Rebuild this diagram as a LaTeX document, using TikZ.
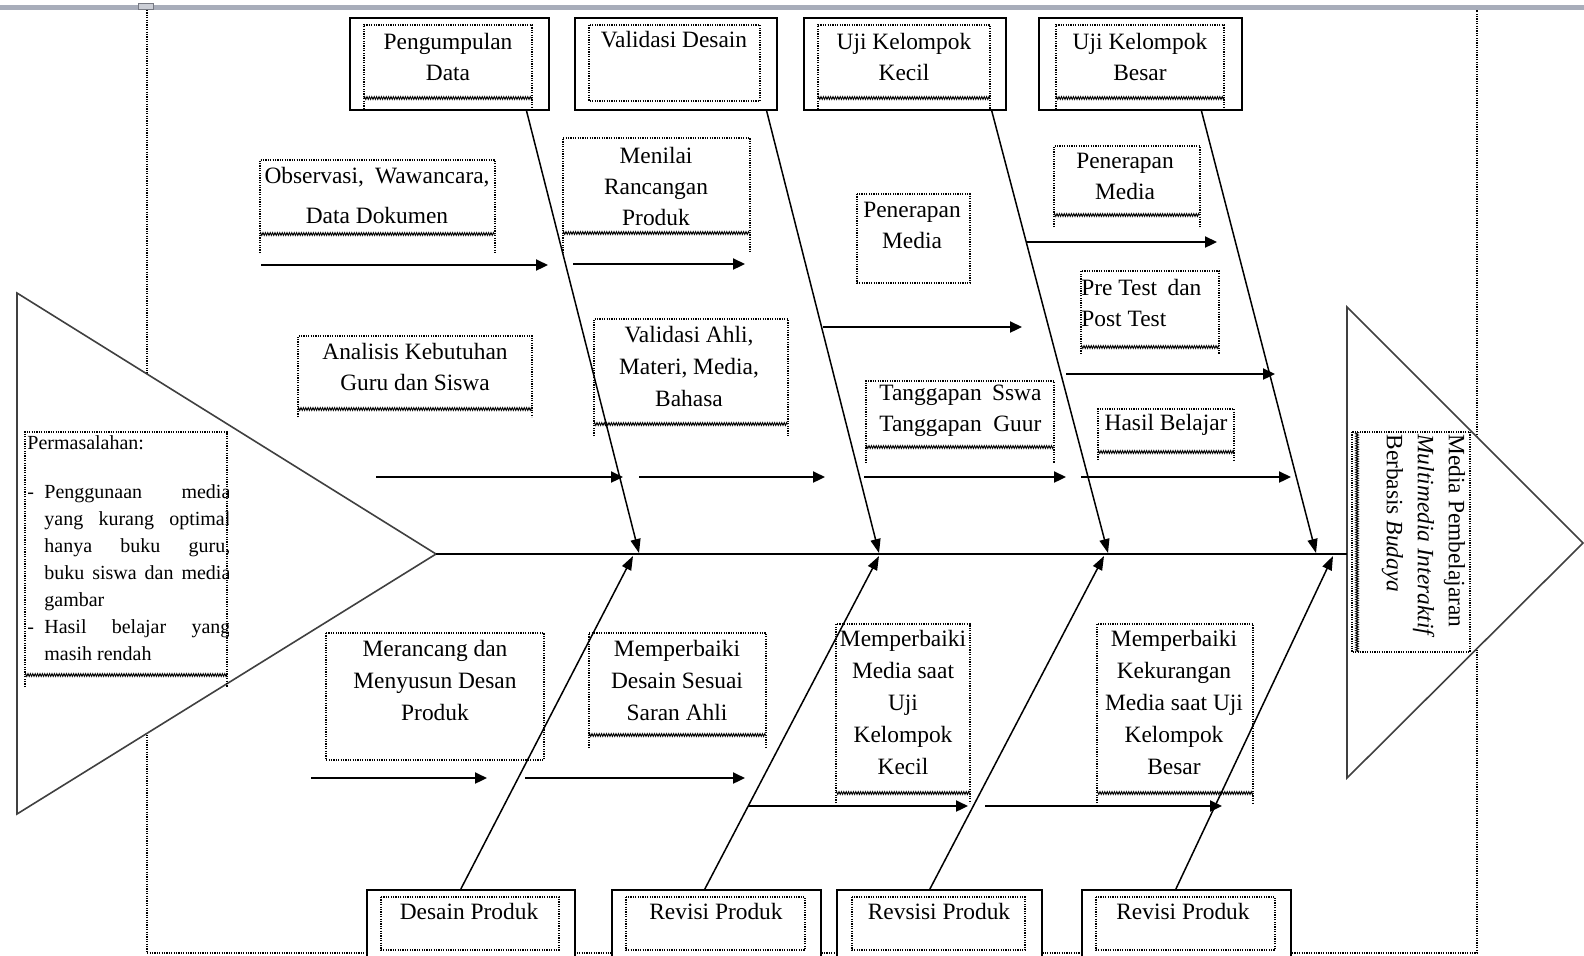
\documentclass[tikz,border=0pt]{standalone}
\usepackage{fontspec}
\setmainfont{Liberation Serif}
\usetikzlibrary{arrows.meta,calc,decorations.pathmorphing}
\definecolor{barGray}{RGB}{168,173,186}

\begin{document}
\begin{tikzpicture}[x=0.5pt, y=-0.5pt,
    every node/.style={font=\fontsize{11.7}{15.5}\selectfont, inner sep=0pt},
    catbox/.style={draw, line width=0.9pt, fill=white, anchor=north west},
    dotline/.style={line width=0.6pt, dash pattern=on 0.6pt off 0.6pt},
    wavy/.style={line width=0.45pt, decorate, decoration={zigzag, segment length=1.2pt, amplitude=0.7pt}},
    bone/.style={line width=0.75pt, -{Triangle[length=7pt, width=5pt]}},
    flow/.style={line width=1.1pt, -{Triangle[length=6pt, width=5.5pt]}},
    tri/.style={line width=0.8pt, draw=black!75, fill=white},
    txt/.style={anchor=north, align=center},
    txtl/.style={anchor=north west, align=left}]
\useasboundingbox (0,0) rectangle (1584,955);

\fill[barGray] (0,5) rectangle (1584,9.5);
\draw[barGray!70!black, fill=barGray!60, line width=0.4pt] (138,3) rectangle (153,9);
\draw[dotline] (147,10) -- (147,953) -- (1477,953) -- (1477,10);

% head and tail
\draw[tri] (17,293) -- (436,554) -- (17,814) -- cycle;
\draw[tri] (1347,307) -- (1583,543) -- (1347,778) -- cycle;
\coordinate (ltip) at (436,554);
\coordinate (rbase) at (1347,554);
\draw[line width=1pt] (ltip) -- (rbase);

% main boxes
\node[catbox, minimum width=99.5pt, minimum height=46pt] (kPengumpulan) at (349,17) {};
\node[catbox, minimum width=101pt, minimum height=46pt] (kValidasi) at (574,17) {};
\node[catbox, minimum width=101pt, minimum height=46pt] (kUjiKecil) at (803,17) {};
\node[catbox, minimum width=101.5pt, minimum height=46pt] (kUjiBesar) at (1038,17) {};
\node[catbox, minimum width=104pt, minimum height=36pt] (kDesain) at (366,889) {};
\node[catbox, minimum width=104.5pt, minimum height=36pt] (kRevisiA) at (611,889) {};
\node[catbox, minimum width=102.5pt, minimum height=36pt] (kRevisiB) at (836,889) {};
\node[catbox, minimum width=104.5pt, minimum height=36pt] (kRevisiC) at (1081,889) {};

% text frames
\foreach \xa/\ya/\xb/\yb/\yw in {364/25/532/109/98, 818/25/990/109/98, 1056/25/1224/109/98,
    260/160/495/253/234, 563/138/750/253/233, 1054/146/1200/227/215, 1081/271/1219/354/347,
    298/336/532/417/409, 594/319/788/436/424, 866/381/1054/463/447, 1098/409/1234/460/452,
    25/432/227/687/675, 589/633/766/748/735, 836/624/970/803/793, 1097/624/1253/803/793}
{
  \draw[dotline] (\xa,\yb) -- (\xa,\ya) -- (\xb,\ya) -- (\xb,\yb);
  \draw[wavy] (\xa,\yw) -- (\xb,\yw);
}
\foreach \xa/\ya/\xb/\yb in {589/25/760/101, 857/194/970/283, 326/633/544/760,
    381/897/559/950, 626/897/805/950, 852/897/1025/950, 1096/897/1275/950}
  \draw[dotline] (\xa,\ya) rectangle (\xb,\yb);
\draw[dotline] (1352,432) rectangle (1470,652);
\draw[wavy] (1357,432) -- (1357,652);

\node[txt] (tPengumpulan) at (448,27) {\strut Pengumpulan\\Data};
\node[txt] (tValidasi) at (674,25) {\strut Validasi Desain};
\node[txt] (tUjiKecil) at (904,27) {\strut Uji Kelompok\\Kecil};
\node[txt] (tUjiBesar) at (1140,27) {\strut Uji Kelompok\\Besar};

\node[txt] (tObservasi) at (377,161) {\strut\makebox[112.5pt][s]{Observasi, Wawancara,}\\[4.5pt]Data Dokumen};
\node[txt] (tMenilai) at (656,141) {\strut Menilai\\Rancangan\\Produk};
\node[txt] (tPenerapanA) at (912,195) {\strut Penerapan\\Media};
\node[txt] (tPenerapanB) at (1125,146) {\strut Penerapan\\Media};
\node[txtl] (tPretest) at (1081,273) {\strut\makebox[60pt][l]{Pre Test\hfill dan}\\Post Test};
\node[txt] (tAnalisis) at (415,337) {\strut Analisis Kebutuhan\\Guru dan Siswa};
\node[txt] (tAhli) at (689,320) {\strut Validasi Ahli,\\[0.5pt]Materi, Media,\\[0.5pt]Bahasa};
\node[txtl] (tTanggapan) at (879,378) {\strut\makebox[81pt][s]{Tanggapan Sswa}\\\makebox[81pt][s]{Tanggapan Guur}};
\node[txt] (tHasil) at (1166,408) {\strut Hasil Belajar};

\node[txt] (tMerancang) at (435,634) {\strut Merancang dan\\[0.5pt]Menyusun Desan\\[0.5pt]Produk};
\node[txt] (tPerbaikiA) at (677,634) {\strut Memperbaiki\\[0.5pt]Desain Sesuai\\[0.5pt]Saran Ahli};
\node[txt] (tPerbaikiB) at (903,624) {\strut Memperbaiki\\[0.5pt]Media saat\\[0.5pt]Uji\\[0.5pt]Kelompok\\[0.5pt]Kecil};
\node[txt] (tPerbaikiC) at (1174,624) {\strut Memperbaiki\\[0.5pt]Kekurangan\\[0.5pt]Media saat Uji\\[0.5pt]Kelompok\\[0.5pt]Besar};

\node[txt] (tDesain) at (469,897) {\strut Desain Produk};
\node[txt] (tRevisiA) at (716,897) {\strut Revisi Produk};
\node[txt] (tRevisiB) at (939,897) {\strut Revsisi Produk};
\node[txt] (tRevisiC) at (1183,897) {\strut Revisi Produk};

\begin{scope}
  \clip (25,428) rectangle (228,690);
  \node[txtl, font=\fontsize{10}{13.5}\selectfont] (tMasalah) at (27,430) {\strut Permasalahan:\\[11pt]
    \makebox[8.5pt][l]{-}\makebox[93pt][s]{Penggunaan media}\\
    \hspace*{8.5pt}\makebox[93pt][s]{yang kurang optimal}\\
    \hspace*{8.5pt}\makebox[93pt][s]{hanya buku guru,}\\
    \hspace*{8.5pt}\makebox[93pt][s]{buku siswa dan media}\\
    \hspace*{8.5pt}gambar\\
    \makebox[8.5pt][l]{-}\makebox[93pt][s]{Hasil belajar yang}\\
    \hspace*{8.5pt}masih rendah};
\end{scope}

\node[rotate=-90, anchor=north west, align=left] (tMedia) at (1471,434)
  {\strut Media Pembelajaran\\\textit{Multimedia Interaktif}\\Berbasis \textit{Budaya}};

% bones
\coordinate (sp1) at (639,553);
\coordinate (sp2) at (879,553);
\coordinate (sp3) at (1108,553);
\coordinate (sp4) at (1316,553);
\coordinate (sp5) at (633,556);
\coordinate (sp6) at (879,556);
\coordinate (sp7) at (1104,556);
\coordinate (sp8) at (1333,556);
\draw[bone] ($(kPengumpulan.south west)!0.884!(kPengumpulan.south east)$) -- (sp1);
\draw[bone] ($(kValidasi.south west)!0.945!(kValidasi.south east)$) -- (sp2);
\draw[bone] ($(kUjiKecil.south west)!0.926!(kUjiKecil.south east)$) -- (sp3);
\draw[bone] ($(kUjiBesar.south west)!0.798!(kUjiBesar.south east)$) -- (sp4);
\draw[bone] ($(kDesain.north west)!0.452!(kDesain.north east)$) -- (sp5);
\draw[bone] ($(kRevisiA.north west)!0.445!(kRevisiA.north east)$) -- (sp6);
\draw[bone] ($(kRevisiB.north west)!0.454!(kRevisiB.north east)$) -- (sp7);
\draw[bone] ($(kRevisiC.north west)!0.45!(kRevisiC.north east)$) -- (sp8);

\foreach \xa/\xb/\yy in {261/548/265, 573/745/264, 823/1022/327, 1027/1217/242, 1066/1275/374,
    376/623/477, 639/825/477, 864/1066/477, 1081/1291/477,
    311/487/778, 525/745/778, 748/968/806, 985/1222/806}
  \draw[flow] (\xa,\yy) -- (\xb,\yy);
\end{tikzpicture}
\end{document}
